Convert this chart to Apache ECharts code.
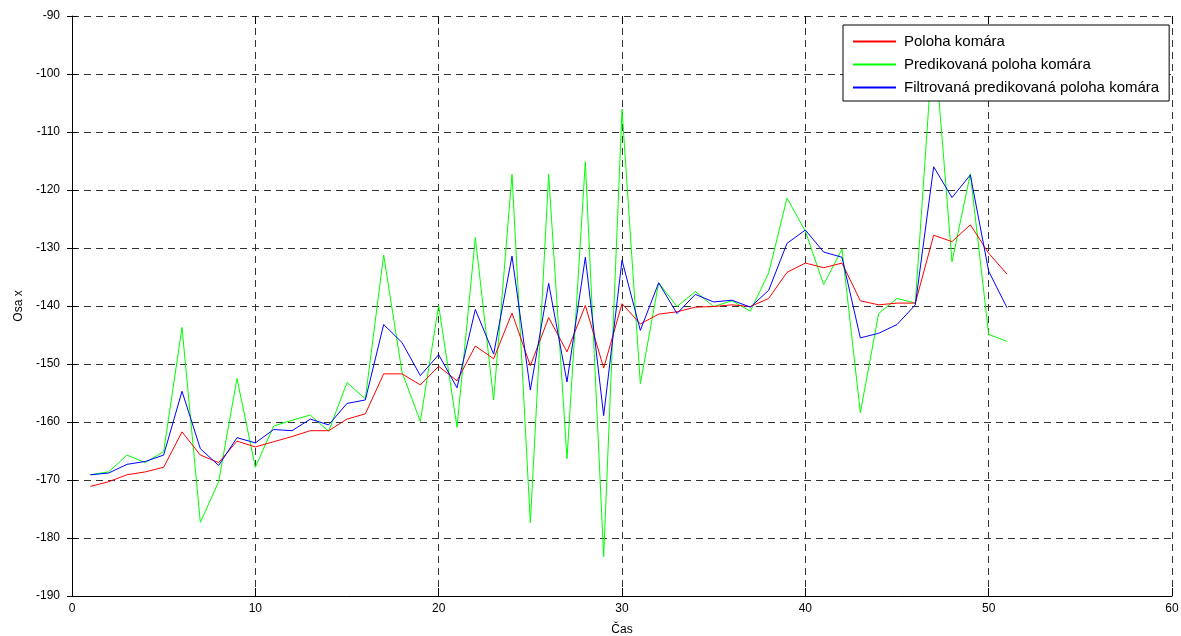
<!DOCTYPE html>
<html>
<head>
<meta charset="utf-8">
<script src="https://cdn.jsdelivr.net/npm/echarts@6/dist/echarts.min.js"></script>
<style>
html,body{margin:0;padding:0;background:#fff;}
#chart{width:1181px;height:636px;}
</style>
</head>
<body>
<div id="chart"></div>
<script>
const seriesNames = ['Poloha komára', 'Predikovaná poloha komára', 'Filtrovaná predikovaná poloha komára'];
const time = [1,2,3,4,5,6,7,8,9,10,11,12,13,14,15,16,17,18,19,20,21,22,23,24,25,26,27,28,29,30,31,32,33,34,35,36,37,38,39,40,41,42,43,44,45,46,47,48,49,50,51];
const poloha = [-171.1,-170.3,-169.1,-168.6,-167.8,-161.7,-165.7,-167.0,-163.3,-164.3,-163.4,-162.5,-161.5,-161.5,-159.5,-158.6,-151.7,-151.7,-153.6,-150.4,-152.9,-146.9,-149.1,-141.2,-150.3,-142.0,-147.9,-139.9,-150.7,-139.6,-143.1,-141.4,-141.0,-140.2,-140.1,-139.8,-140.1,-138.7,-134.2,-132.6,-133.4,-132.6,-139.1,-139.8,-139.5,-139.5,-127.8,-128.9,-126.0,-130.9,-134.5];
const predikovana = [-169.1,-168.6,-165.7,-167.0,-165.1,-143.7,-177.3,-170.3,-152.5,-167.8,-160.7,-159.7,-158.8,-161.6,-153.2,-156.0,-131.2,-151.4,-159.9,-139.9,-160.9,-128.2,-156.2,-117.3,-177.4,-117.3,-166.3,-115.1,-183.2,-106.1,-153.4,-136.0,-140.1,-137.5,-140.1,-139.1,-140.9,-134.3,-121.4,-127.1,-136.3,-130.2,-158.4,-141.3,-138.7,-139.5,-93.0,-132.4,-117.2,-144.9,-146.1];
const filtrovana = [-169.1,-168.8,-167.3,-166.8,-165.7,-154.7,-164.6,-167.5,-162.7,-163.6,-161.3,-161.5,-159.5,-160.5,-156.8,-156.2,-143.2,-146.3,-152.0,-148.4,-154.1,-140.6,-148.3,-131.4,-154.5,-136.1,-153.1,-131.6,-158.9,-132.1,-144.2,-136.0,-141.3,-138.0,-139.3,-139.0,-140.2,-137.3,-129.2,-126.9,-130.7,-131.6,-145.5,-144.7,-143.2,-139.8,-116.0,-121.3,-117.4,-134.0,-140.3];
const colors = ['#ff0000', '#00ff00', '#0000ff'];
const xAxisTitle = 'Čas';
const yAxisTitle = 'Osa x';

const FONT = '"Liberation Sans", Arial, Helvetica, sans-serif';
const pairs = vals => time.map((t, i) => [t, vals[i]]);
const gridLine = {show: true, lineStyle: {color: '#333', width: 1, type: [7, 5]}};

const chart = echarts.init(document.getElementById('chart'), null, {renderer: 'canvas'});
chart.setOption({
  animation: false,
  backgroundColor: '#fff',
  grid: {left: 72, right: 9, top: 16, bottom: 40, containLabel: false, outerBoundsMode: 'none'},
  legend: {
    data: seriesNames,
    orient: 'vertical',
    left: 843, top: 25,
    backgroundColor: '#fff',
    borderColor: '#000', borderWidth: 1,
    padding: [9, 10, 6, 9],
    itemWidth: 43, itemHeight: 14, itemGap: 8,
    itemStyle: {opacity: 0},
    textStyle: {fontFamily: FONT, fontSize: 15, color: '#000', padding: [0, 0, 0, 3]}
  },
  xAxis: [{
    type: 'value', min: 0, max: 60, interval: 10,
    name: xAxisTitle, nameLocation: 'middle', nameGap: 28,
    nameTextStyle: {fontFamily: FONT, fontSize: 12, color: '#000'},
    axisLine: {show: true, onZero: false, lineStyle: {color: '#000', width: 1}},
    axisTick: {show: true, inside: true, length: 8, lineStyle: {color: '#000'}},
    axisLabel: {fontFamily: FONT, fontSize: 12, color: '#000', margin: 7},
    splitLine: gridLine
  }, {
    type: 'value', min: 0, max: 60, interval: 10, position: 'top',
    axisLine: {show: false},
    axisTick: {show: true, inside: true, length: 8, lineStyle: {color: '#000'}},
    axisLabel: {show: false}, splitLine: {show: false}
  }],
  yAxis: [{
    type: 'value', min: -190, max: -90, interval: 10,
    name: yAxisTitle, nameLocation: 'middle', nameGap: 43, nameRotate: 90,
    nameTextStyle: {fontFamily: FONT, fontSize: 12, color: '#000'},
    axisLine: {show: true, onZero: false, lineStyle: {color: '#000', width: 1}},
    axisTick: {show: true, inside: true, length: 5, lineStyle: {color: '#000'}},
    axisLabel: {fontFamily: FONT, fontSize: 12, color: '#000', margin: 12},
    splitLine: gridLine
  }, {
    type: 'value', min: -190, max: -90, interval: 10, position: 'right',
    axisLine: {show: false},
    axisTick: {show: true, inside: true, length: 5, lineStyle: {color: '#000'}},
    axisLabel: {show: false}, splitLine: {show: false}
  }],
  series: [
    {name: seriesNames[0], type: 'line', data: pairs(poloha), symbol: 'none', color: colors[0], lineStyle: {width: 1, color: colors[0]}, z: 3},
    {name: seriesNames[1], type: 'line', data: pairs(predikovana), symbol: 'none', color: colors[1], lineStyle: {width: 1, color: colors[1]}, z: 2},
    {name: seriesNames[2], type: 'line', data: pairs(filtrovana), symbol: 'none', color: colors[2], lineStyle: {width: 1, color: colors[2]}, z: 4}
  ]
});
</script>
</body>
</html>
